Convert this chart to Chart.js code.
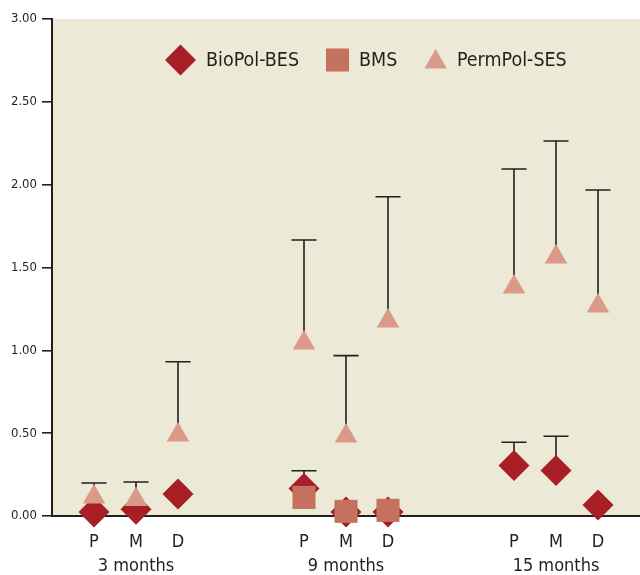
<!DOCTYPE html>
<html>
<head>
<meta charset="utf-8">
<script src="https://cdn.jsdelivr.net/npm/chart.js@4/dist/chart.umd.min.js"></script>
<style>
  html, body { margin: 0; padding: 0; background: #fff; }
  #wrap { width: 640px; height: 575px; }
</style>
</head>
<body>
<div id="wrap"><canvas id="chart" width="640" height="575"></canvas></div>
<script>
// positions within each follow-up group, and the groups themselves
const categories = ['P', 'M', 'D'];
const groups = ['3 months', '9 months', '15 months'];

// values, 9 per series (3 groups x P/M/D)
const bioPol    = [0.024, 0.040, 0.133,  0.166, 0.024, 0.024,  0.305, 0.275, 0.066];
const bioPolErr = [null,  null,  null,   0.273, null,  null,   0.445, 0.481, null];
const bms       = [null,  null,  null,   0.112, 0.028, 0.034,  null,  null,  null];
const permPol   = [0.115, 0.100, 0.489,  1.044, 0.483, 1.177,  1.382, 1.563, 1.268];
const permPolErr= [0.199, 0.205, 0.931,  1.666, 0.968, 1.927,  2.095, 2.264, 1.968];

const FONT = "'Liberation Sans Narrow', 'DejaVu Sans Condensed', 'Liberation Sans', sans-serif";
const INK = '#231f20';

// spread the groups over a category axis with two empty slots between groups
function expand(arr, blank) {
  const out = [blank];
  groups.forEach((g, gi) => {
    if (gi > 0) out.push(blank, blank);
    categories.forEach((c, ci) => out.push(arr[gi * categories.length + ci]));
  });
  out.push(blank);
  return out;
}
const flatLabels = groups.flatMap(() => categories);
const labels = expand(flatLabels, '');
const groupAt = expand(groups.flatMap(g => categories.map((c, i) => (i === 1 ? g : null))), null);

// upper error bars, drawn underneath the markers
const errorBars = {
  id: 'errorBars',
  beforeDatasetsDraw(chart) {
    const { ctx, scales: { x, y } } = chart;
    ctx.save();
    ctx.strokeStyle = INK;
    ctx.lineWidth = 1.6;
    chart.data.datasets.forEach(ds => {
      if (!ds.errUp) return;
      ds.errUp.forEach((e, i) => {
        if (e == null || ds.data[i] == null) return;
        const px = x.getPixelForValue(i);
        const y0 = y.getPixelForValue(ds.data[i]);
        const y1 = y.getPixelForValue(e);
        ctx.beginPath();
        ctx.moveTo(px, y0);
        ctx.lineTo(px, y1);
        ctx.moveTo(px - 12.5, y1);
        ctx.lineTo(px + 12.5, y1);
        ctx.stroke();
      });
    });
    ctx.restore();
  }
};

// beige plot background
const plotBg = {
  id: 'plotBg',
  beforeDraw(chart) {
    const { ctx, chartArea: a } = chart;
    ctx.save();
    ctx.fillStyle = '#ece9d7';
    ctx.fillRect(a.left, a.top, a.right - a.left, a.bottom - a.top);
    ctx.restore();
  }
};

// legend sitting inside the plot area
const innerLegend = {
  id: 'innerLegend',
  afterDatasetsDraw(chart) {
    const { ctx } = chart;
    ctx.save();
    ctx.font = '19.5px ' + FONT;
    ctx.textBaseline = 'middle';
    let x = 165;
    const yMid = 60;
    chart.data.datasets.forEach(ds => {
      const half = ds.legendHalf;
      ctx.fillStyle = ds.backgroundColor;
      ctx.strokeStyle = ds.backgroundColor;
      ctx.lineWidth = 0;
      Chart.helpers.drawPoint(ctx, {
        pointStyle: ds.pointStyle, radius: ds.pointRadius, rotation: 0, borderWidth: 0
      }, x + half, yMid + (ds.pointStyle === 'triangle' ? 2 : 0));
      ctx.fillStyle = INK;
      const tx = x + 2 * half + 10;
      ctx.fillText(ds.label, tx, yMid + 1);
      x = tx + ctx.measureText(ds.label).width + 27;
    });
    ctx.restore();
  }
};

const mk = (label, data, color, style, radius, half, order, err) => ({
  label,
  data: expand(data, null),
  errUp: err ? expand(err, null) : null,
  backgroundColor: color,
  borderColor: color,
  borderWidth: 0,
  pointStyle: style,
  pointRadius: radius,
  pointHoverRadius: radius,
  legendHalf: half,
  showLine: false,
  clip: false,
  order
});

new Chart(document.getElementById('chart'), {
  type: 'line',
  data: {
    labels,
    datasets: [
      mk('BioPol-BES', bioPol, '#a71f25', 'rectRot', 15.5, 15.5, 3, bioPolErr),
      mk('BMS', bms, '#c4725f', 'rect', 16.3, 11.5, 2, null),
      mk('PermPol-SES', permPol, '#d99a87', 'triangle', 13, 11.3, 1, permPolErr)
    ]
  },
  options: {
    responsive: false,
    animation: false,
    events: [],
    layout: { autoPadding: false, padding: { top: 19, right: 0, left: 0, bottom: 0 } },
    plugins: {
      legend: { display: false },
      tooltip: { enabled: false }
    },
    scales: {
      x: {
        offset: false,
        grid: { display: false, drawTicks: false },
        border: { color: INK, width: 2 },
        ticks: {
          autoSkip: false,
          maxRotation: 0,
          padding: 15,
          color: INK,
          font: { family: FONT, size: 18, lineHeight: 1.3 },
          callback: (v, i) => groupAt[i] ? [labels[i], groupAt[i]] : labels[i]
        },
        afterFit: s => {
          s.height = 59;
          s.paddingLeft = 0;
          s.paddingRight = 0;
        }
      },
      y: {
        min: 0,
        max: 3,
        grid: { drawOnChartArea: false, drawTicks: true, tickLength: 10, color: INK, lineWidth: 1.6 },
        border: { color: INK, width: 2 },
        ticks: {
          stepSize: 0.5,
          padding: 5,
          color: INK,
          font: { family: FONT, size: 13 },
          callback: v => v.toFixed(2)
        },
        afterFit: s => { s.width = 52; }
      }
    }
  },
  plugins: [plotBg, errorBars, innerLegend]
});
</script>
</body>
</html>
